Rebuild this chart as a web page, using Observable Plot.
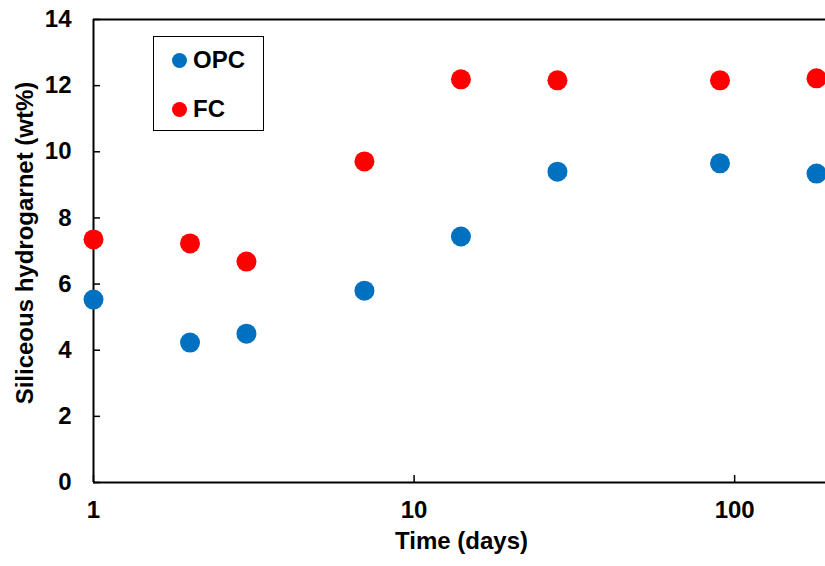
<!DOCTYPE html>
<html>
<head>
<meta charset="utf-8">
<script src="https://cdn.jsdelivr.net/npm/d3@7"></script>
<script src="https://cdn.jsdelivr.net/npm/@observablehq/plot@0.6"></script>
<style>
  html, body { margin: 0; padding: 0; background: #fff; overflow: hidden; }
  #wrap { position: relative; width: 825px; height: 566px; font-family: "Liberation Sans", Arial, sans-serif; }
  #legend { position: absolute; left: 153px; top: 36px; width: 109px; height: 93px; border: 1.5px solid #000; background: #fff; font-weight: bold; font-size: 24px; }
  .item { position: absolute; left: 18px; display: flex; align-items: center; height: 28px; line-height: 28px; }
  .sw { width: 15px; height: 15px; border-radius: 50%; margin-right: 6px; }
</style>
</head>
<body>
<div id="wrap"></div>
<script>
const days = [1, 2, 3, 7, 14, 28, 90, 180];
const opc = [5.53, 4.23, 4.5, 5.8, 7.44, 9.4, 9.65, 9.34];
const fc = [7.35, 7.23, 6.68, 9.71, 12.19, 12.16, 12.16, 12.22];
const seriesNames = ["OPC", "FC"];
const seriesColors = ["#0070C0", "#FF0000"];
const yTicks = [0, 2, 4, 6, 8, 10, 12, 14];
const xTicks = [1, 10, 100];

const data = [];
days.forEach((d, i) => {
  data.push({day: d, value: opc[i], series: "OPC"});
  data.push({day: d, value: fc[i], series: "FC"});
});

const fontStyle = {fontSize: 24, fontWeight: "bold", fill: "#000"};

const chart = Plot.plot({
  width: 825,
  height: 566,
  marginLeft: 93,
  marginRight: 0,
  marginTop: 19,
  marginBottom: 84,
  style: {fontFamily: "'Liberation Sans', Arial, sans-serif", background: "#fff", overflow: "hidden"},
  x: {type: "log", domain: [1, 192], axis: null},
  y: {domain: [0, 14], axis: null},
  color: {domain: seriesNames, range: seriesColors},
  marks: [
    Plot.ruleY([0, 14], {stroke: "#000", strokeWidth: 2}),
    Plot.ruleX([1], {stroke: "#000", strokeWidth: 2}),
    Plot.axisY({ticks: yTicks, tickSize: 0, tickPadding: 22, label: null, fontSize: 24, fontWeight: "bold", fill: "#000"}),
    Plot.axisY({ticks: yTicks, tickSize: -7, tickFormat: () => "", label: null, stroke: "#000", strokeWidth: 1.5}),
    Plot.axisX({ticks: xTicks, tickSize: 0, tickPadding: 18, label: null, tickFormat: d => String(d), fontSize: 24, fontWeight: "bold", fill: "#000"}),
    Plot.axisX({ticks: xTicks, tickSize: -7, tickFormat: () => "", label: null, stroke: "#000", strokeWidth: 1.5}),
    Plot.dot(data, {x: "day", y: "value", fill: "series", r: 10, clip: false}),
    Plot.text(["Siliceous hydrogarnet (wt%)"], {frameAnchor: "left", textAnchor: "middle", rotate: -90, dx: -68, dy: -8, ...fontStyle}),
    Plot.text(["Time (days)"], {frameAnchor: "bottom", dy: 66, dx: 2, ...fontStyle})
  ]
});

const wrap = document.getElementById("wrap");
wrap.appendChild(chart);
const legend = document.createElement("div");
legend.id = "legend";
seriesNames.forEach((name, i) => {
  const item = document.createElement("div");
  item.className = "item";
  item.style.top = (i === 0 ? 9 : 58) + "px";
  const sw = document.createElement("span");
  sw.className = "sw";
  sw.style.background = seriesColors[i];
  const t = document.createElement("span");
  t.textContent = name;
  item.appendChild(sw);
  item.appendChild(t);
  legend.appendChild(item);
});
wrap.appendChild(legend);
</script>
</body>
</html>
